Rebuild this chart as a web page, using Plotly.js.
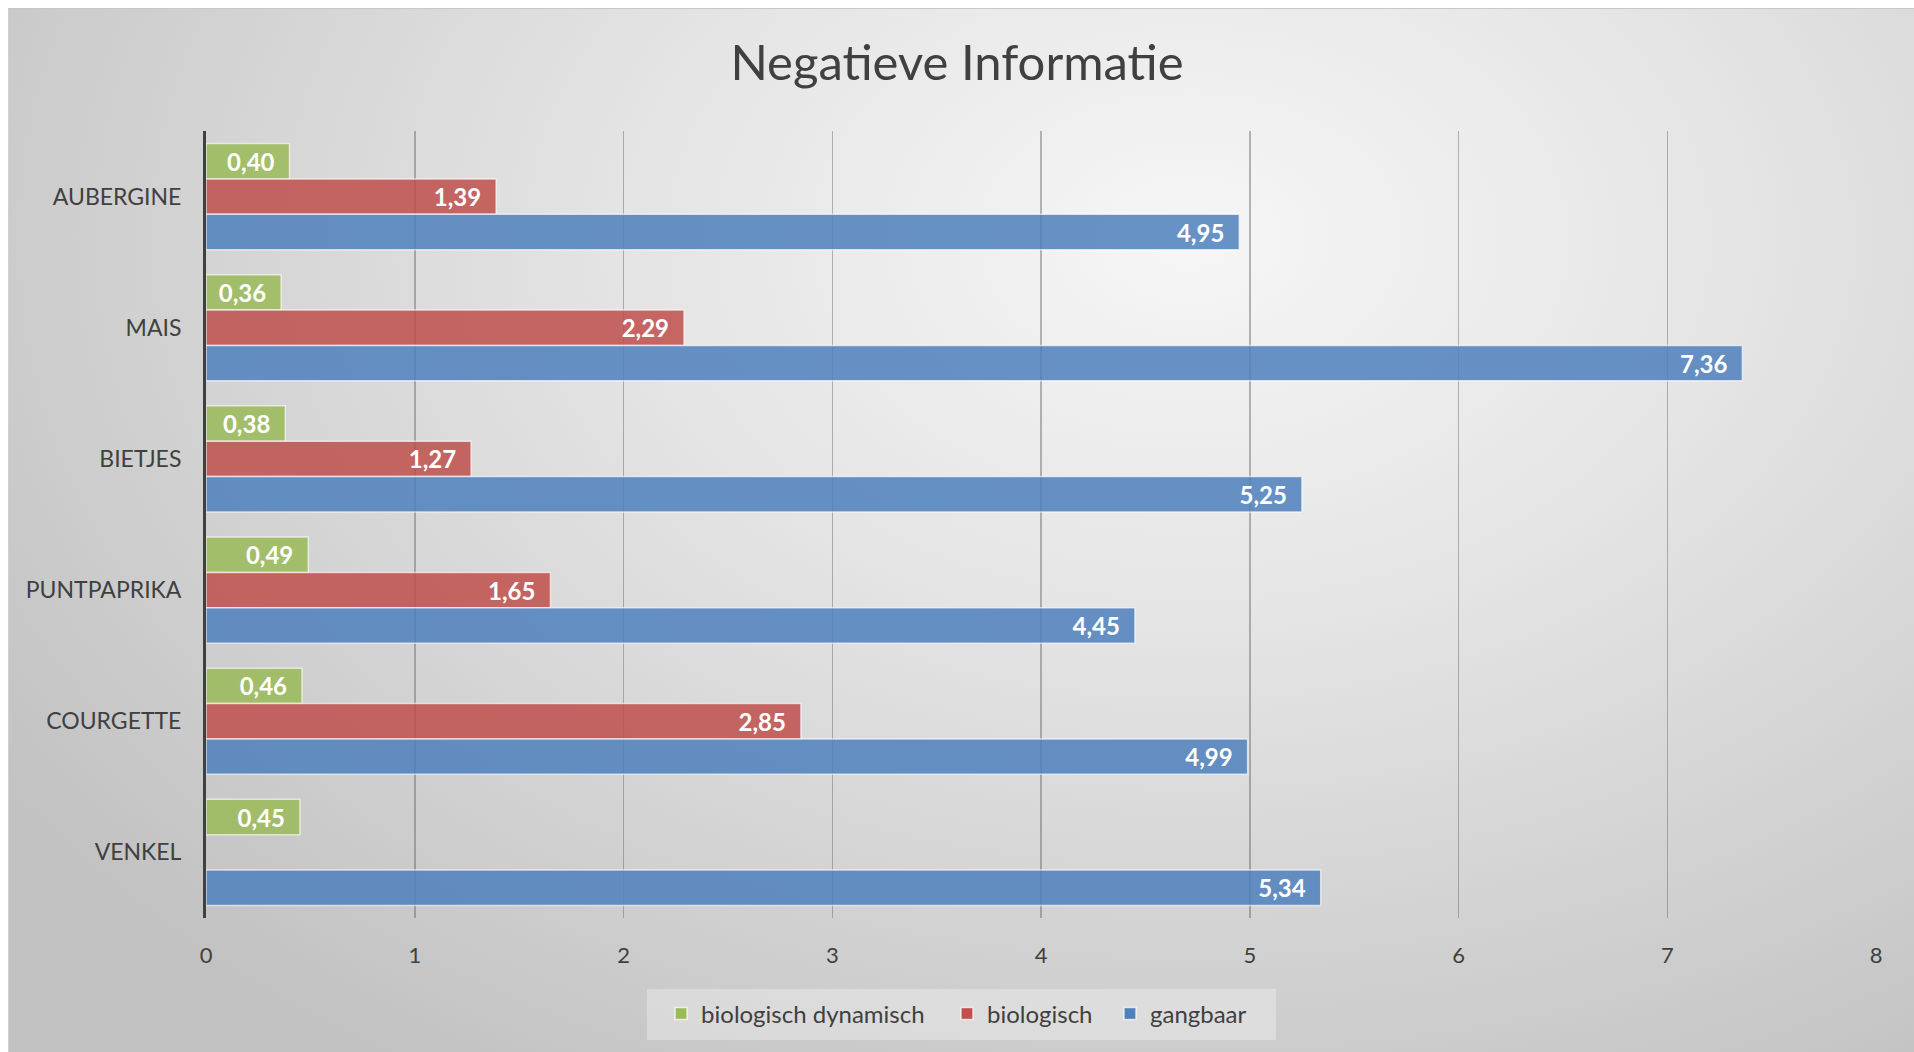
<!DOCTYPE html>
<html>
<head>
<meta charset="utf-8">
<script src="https://cdn.plot.ly/plotly-3.0.1.min.js"></script>
<style>
  html, body { margin: 0; padding: 0; background: #ffffff; width: 1914px; height: 1052px; overflow: hidden; }
  #bg { position: absolute; left: 8px; top: 8px; right: 0; bottom: 0;
        border-top: 1px solid #c8c8c8; border-left: 1px solid #d0d0d0;
        background: radial-gradient(ellipse 75% 95% at 62% 22%, #f6f6f6 0%, #e4e4e4 40%, #d0d0d0 75%, #c2c2c2 100%); }
  #chart { position: absolute; left: 0; top: 0; width: 1914px; height: 1052px; }
</style>
</head>
<body>
<div id="bg"></div>
<div id="chart"></div>
<script>
const categories = ["AUBERGINE", "MAIS", "BIETJES", "PUNTPAPRIKA", "COURGETTE", "VENKEL"];
const seriesNames = ["biologisch dynamisch", "biologisch", "gangbaar"];
const biologischDynamisch = [0.40, 0.36, 0.38, 0.49, 0.46, 0.45];
const biologisch = [1.39, 2.29, 1.27, 1.65, 2.85, null];
const gangbaar = [4.95, 7.36, 5.25, 4.45, 4.99, 5.34];
const xTicks = [0, 1, 2, 3, 4, 5, 6, 7, 8];
const colors = ["#9BBB59", "#C0504D", "#4F81BD"];

const FONT = "Lato, 'Open Sans', sans-serif";
const fmt = v => (v === null ? "" : v.toFixed(2).replace(".", ",") + "\u2002");

const legendNames = ["legend", "legend2", "legend3"];
const legendX = [0.2725, 0.4437, 0.5413];

const seriesValues = [biologischDynamisch, biologisch, gangbaar];
const traces = seriesValues.map((vals, i) => ({
  type: "bar",
  orientation: "h",
  name: seriesNames[i],
  legend: legendNames[i],
  y: categories,
  x: vals,
  text: vals.map(fmt),
  textposition: "inside",
  insidetextanchor: "end",
  constraintext: "none",
  textfont: { family: FONT, size: 24, color: "#ffffff", weight: "bold" },
  marker: { color: colors[i], opacity: 0.85, line: { color: "rgba(255,255,255,0.7)", width: 1.5 } },
  hoverinfo: "skip"
}));

const legendStyle = x => ({
  orientation: "h",
  x: x, xanchor: "left",
  y: -0.122, yanchor: "middle",
  bgcolor: "rgba(0,0,0,0)",
  font: { family: FONT, size: 24, color: "#404040" }
});

const layout = {
  width: 1914,
  height: 1052,
  paper_bgcolor: "rgba(0,0,0,0)",
  plot_bgcolor: "rgba(0,0,0,0)",
  margin: { l: 206, r: 38, t: 131, b: 134, pad: 0 },
  font: { family: FONT, color: "#404040" },
  title: {
    text: "Negatieve Informatie",
    font: { family: FONT, size: 49, color: "#404040" },
    x: 0.5, xref: "container", xanchor: "center",
    y: 1 - 63 / 1052, yref: "container", yanchor: "middle"
  },
  barmode: "group",
  bargap: 0.19,
  bargroupgap: 0,
  showlegend: true,
  legend: legendStyle(legendX[0]),
  legend2: legendStyle(legendX[1]),
  legend3: legendStyle(legendX[2]),
  shapes: [{
    type: "rect", xref: "paper", yref: "paper",
    x0: 0.264, x1: 0.6407, y0: -0.0902, y1: -0.155,
    fillcolor: "rgba(255,255,255,0.3)", line: { width: 0 }, layer: "below"
  }],
  xaxis: {
    range: [0, 8],
    tickvals: xTicks,
    ticktext: xTicks.map(String),
    showgrid: true,
    gridcolor: "rgba(100,100,100,0.45)",
    gridwidth: 1.5,
    zeroline: false,
    showline: false,
    ticks: "",
    ticklabelstandoff: 22,
    tickfont: { family: FONT, size: 22, color: "#404040" },
    fixedrange: true
  },
  yaxis: {
    type: "category",
    categoryorder: "array",
    categoryarray: categories,
    autorange: "reversed",
    showgrid: false,
    zeroline: false,
    showline: true,
    linecolor: "#404040",
    linewidth: 3,
    ticks: "",
    ticklabelstandoff: 17,
    tickfont: { family: FONT, size: 23, color: "#404040" },
    fixedrange: true
  }
};

Plotly.newPlot("chart", traces, layout, { displayModeBar: false, staticPlot: true });
</script>
</body>
</html>
